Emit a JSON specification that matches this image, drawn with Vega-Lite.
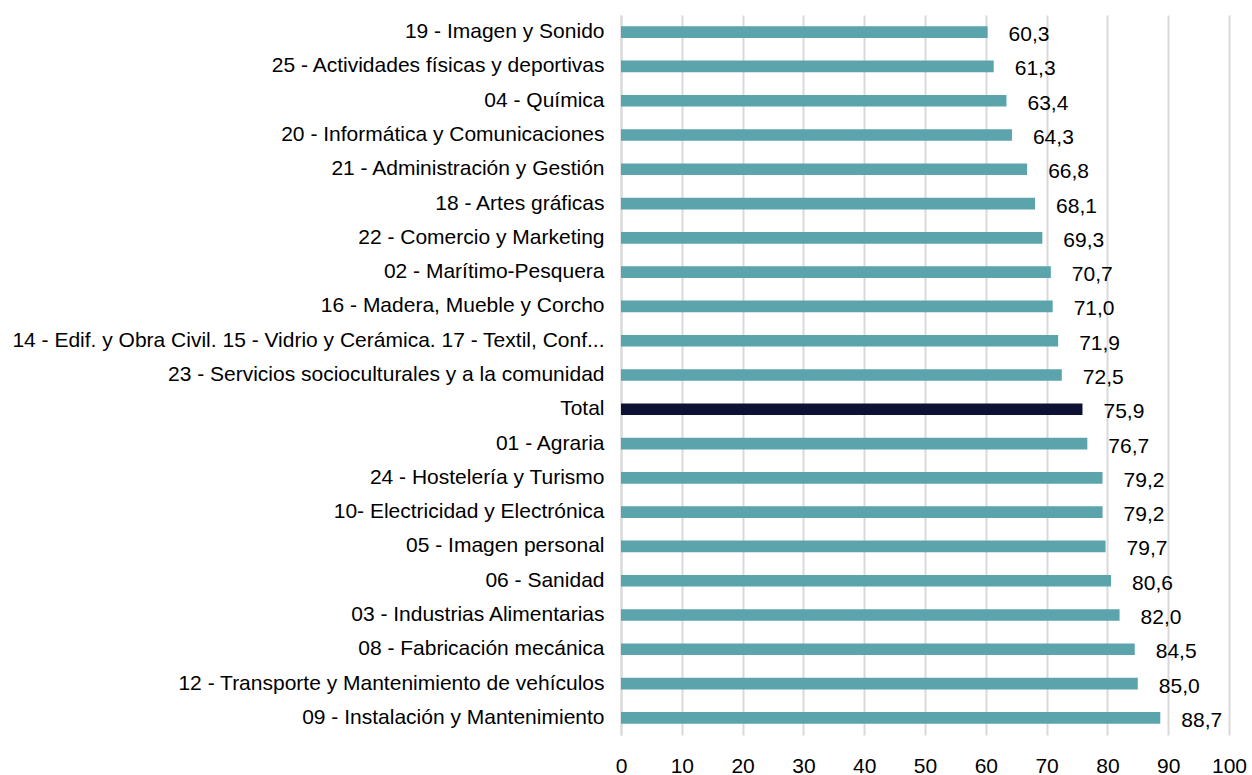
{
  "$schema": "https://vega.github.io/schema/vega-lite/v6.json",
  "autosize": {"type": "none"},
  "padding": {"left": 621, "top": 15, "right": 23, "bottom": 40},
  "width": 608,
  "height": 720,
  "background": "white",
  "config": {
    "font": "Liberation Sans",
    "view": {"stroke": null},
    "locale": {"number": {"decimal": ",", "thousands": ".", "grouping": [3], "currency": ["", " €"]}}
  },
  "data": {
    "values": [
      {"familia": "19 - Imagen y Sonido", "valor": 60.3, "tipo": "f"},
      {"familia": "25 - Actividades físicas y deportivas", "valor": 61.3, "tipo": "f"},
      {"familia": "04 - Química", "valor": 63.4, "tipo": "f"},
      {"familia": "20 - Informática y Comunicaciones", "valor": 64.3, "tipo": "f"},
      {"familia": "21 - Administración y Gestión", "valor": 66.8, "tipo": "f"},
      {"familia": "18 - Artes gráficas", "valor": 68.1, "tipo": "f"},
      {"familia": "22 - Comercio y Marketing", "valor": 69.3, "tipo": "f"},
      {"familia": "02 - Marítimo-Pesquera", "valor": 70.7, "tipo": "f"},
      {"familia": "16 - Madera, Mueble y Corcho", "valor": 71.0, "tipo": "f"},
      {"familia": "14 - Edif. y Obra Civil. 15 - Vidrio y Cerámica. 17 - Textil, Conf...", "valor": 71.9, "tipo": "f"},
      {"familia": "23 - Servicios socioculturales y a la comunidad", "valor": 72.5, "tipo": "f"},
      {"familia": "Total", "valor": 75.9, "tipo": "t"},
      {"familia": "01 - Agraria", "valor": 76.7, "tipo": "f"},
      {"familia": "24 - Hostelería y Turismo", "valor": 79.2, "tipo": "f"},
      {"familia": "10- Electricidad y Electrónica", "valor": 79.2, "tipo": "f"},
      {"familia": "05 - Imagen personal", "valor": 79.7, "tipo": "f"},
      {"familia": "06 - Sanidad", "valor": 80.6, "tipo": "f"},
      {"familia": "03 - Industrias Alimentarias", "valor": 82.0, "tipo": "f"},
      {"familia": "08 - Fabricación mecánica", "valor": 84.5, "tipo": "f"},
      {"familia": "12 - Transporte y Mantenimiento de vehículos", "valor": 85.0, "tipo": "f"},
      {"familia": "09 - Instalación y Mantenimiento", "valor": 88.7, "tipo": "f"}
    ]
  },
  "encoding": {
    "y": {
      "field": "familia", "type": "nominal", "sort": null,
      "scale": {"paddingInner": 0.66, "paddingOuter": 0.33},
      "axis": {
        "title": null, "ticks": false, "labelFontSize": 21, "labelColor": "#000000",
        "labelPadding": 17, "labelLimit": 0, "domainColor": "#d9d9d9", "domainWidth": 2
      }
    },
    "x": {
      "field": "valor", "type": "quantitative",
      "scale": {"domain": [0, 100], "nice": false},
      "axis": {
        "title": null, "values": [0,10,20,30,40,50,60,70,80,90,100],
        "ticks": false, "domain": false, "grid": true, "gridColor": "#d9d9d9", "gridWidth": 2,
        "labelFontSize": 21, "labelColor": "#000000", "labelPadding": 20, "format": "d",
        "labelOverlap": false, "labelFlush": false
      }
    }
  },
  "layer": [
    {
      "mark": {"type": "bar"},
      "encoding": {
        "color": {
          "field": "tipo", "type": "nominal",
          "scale": {"domain": ["f", "t"], "range": ["#5BA4AB", "#0D1235"]},
          "legend": null
        }
      }
    },
    {
      "mark": {"type": "text", "align": "left", "baseline": "middle", "dx": 21, "dy": 3, "fontSize": 21, "color": "#000000"},
      "encoding": {
        "text": {"field": "valor", "type": "quantitative", "format": ".1f"}
      }
    }
  ]
}
